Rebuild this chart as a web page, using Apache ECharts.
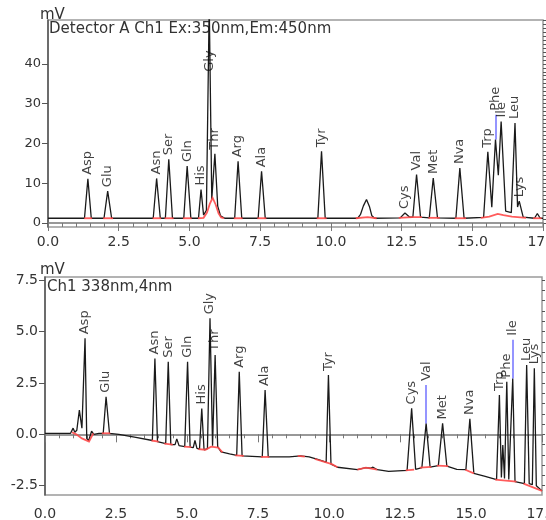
<!DOCTYPE html>
<html>
<head>
<meta charset="utf-8">
<script src="https://cdn.jsdelivr.net/npm/echarts@6/dist/echarts.min.js"></script>
<style>
html, body { margin: 0; padding: 0; background: #fff; }
#chart { width: 546px; height: 520px; }
</style>
</head>
<body>
<div id="chart"></div>
<script>
// top panel: fluorescence detector (mV vs min)
const topTrace = [
  [0, 1.2], [1.29, 1.2], [1.41, 11.1], [1.53, 1.2],
  [1.98, 1.2], [2.11, 8.0], [2.25, 1.2],
  [3.72, 1.2], [3.84, 11.2], [3.97, 1.2],
  [4.15, 1.2], [4.27, 16.0], [4.4, 1.2],
  [4.8, 1.2], [4.92, 14.3], [5.05, 1.2],
  [5.32, 1.2], [5.41, 8.4], [5.5, 2.0], [5.6, 3.2], [5.70, 55], [5.79, 6.0],
  [5.90, 17.4], [6.0, 4.2], [6.1, 1.8], [6.25, 1.2],
  [6.6, 1.2], [6.72, 15.5], [6.85, 1.2],
  [7.43, 1.2], [7.55, 13.0], [7.68, 1.2],
  [9.54, 1.2], [9.67, 18.0], [9.8, 1.2],
  [10.95, 1.2], [11.05, 2.2], [11.15, 4.3], [11.26, 5.9], [11.37, 4.0], [11.45, 1.8], [11.55, 1.2],
  [12.45, 1.3], [12.62, 2.5], [12.78, 1.5], [12.9, 1.5], [13.03, 12.2], [13.17, 1.5],
  [13.48, 1.3], [13.62, 11.3], [13.77, 1.3],
  [14.42, 1.2], [14.56, 13.8], [14.71, 1.2],
  [15.4, 1.4], [15.55, 17.9], [15.69, 4.0], [15.82, 21.0], [15.92, 12.0], [16.02, 25.5],
  [16.18, 3.0], [16.38, 2.6], [16.51, 25.1], [16.6, 4.0], [16.66, 5.5], [16.8, 1.5],
  [17.2, 1.2], [17.3, 2.4], [17.4, 1.2], [17.5, 1.2]
];
// red integration baseline pieces
const topBase = [
  [[1.28, 1.2], [1.56, 1.2]],
  [[1.95, 1.2], [2.3, 1.2]],
  [[3.7, 1.2], [4.0, 1.2]],
  [[4.12, 1.2], [4.44, 1.2]],
  [[4.77, 1.2], [5.08, 1.2]],
  [[5.3, 1.2], [5.5, 1.3], [5.62, 2.6], [5.72, 4.8], [5.82, 6.3], [5.93, 4.6], [6.03, 2.4], [6.12, 1.4], [6.22, 1.2]],
  [[6.57, 1.2], [6.88, 1.2]],
  [[7.4, 1.2], [7.72, 1.2]],
  [[9.5, 1.2], [9.85, 1.2]],
  [[10.88, 1.2], [11.3, 1.5], [11.62, 1.2]],
  [[12.4, 1.3], [12.88, 1.5], [13.22, 1.5]],
  [[13.45, 1.3], [13.85, 1.3]],
  [[14.38, 1.2], [14.78, 1.2]],
  [[15.3, 1.3], [15.6, 1.6], [15.9, 2.3], [16.1, 2.0], [16.4, 1.6], [16.9, 1.3]],
  [[17.15, 1.2], [17.45, 1.2]]
];
const topNames = ["Asp", "Glu", "Asn", "Ser", "Gln", "His", "Gly", "Thr", "Arg", "Ala",
  "Tyr", "Cys", "Val", "Met", "Nva", "Trp", "Phe", "Ile", "Leu", "Lys"];
const topTimes = [1.41, 2.11, 3.84, 4.27, 4.92, 5.41, 5.70, 5.90, 6.72, 7.55,
  9.67, 12.62, 13.03, 13.62, 14.56, 15.55, 15.82, 16.02, 16.51, 16.66];
const topHeights = [11.1, 8.0, 11.2, 16.0, 14.3, 8.4, 55, 17.4, 15.5, 13.0,
  18.0, 2.5, 12.2, 11.3, 13.8, 17.9, 21.0, 25.5, 25.1, 5.5];
const topLabelAt = { Gly: 40.5, Phe: 27.2 };
const topYLabels = [0, 10, 20, 30, 40];

// bottom panel: UV detector
const botTrace = [
  [0, 0.05], [0.9, 0.05], [0.99, 0.3], [1.05, 0.1], [1.12, 0.2], [1.21, 1.18], [1.3, 0.3],
  [1.41, 4.67], [1.47, -0.2], [1.54, -0.3], [1.64, 0.15], [1.72, 0.0], [1.9, 0.05],
  [2.05, 0.05], [2.15, 1.83], [2.27, 0.05], [2.6, 0.0], [3.2, -0.15],
  [3.78, -0.3], [3.87, 3.69], [3.96, -0.35], [4.25, -0.45], [4.34, 3.53], [4.43, -0.5],
  [4.58, -0.5], [4.64, -0.22], [4.72, -0.55], [4.92, -0.6], [5.02, 3.53], [5.11, -0.62],
  [5.22, -0.65], [5.28, -0.3], [5.35, -0.68], [5.44, -0.72], [5.52, 1.26], [5.6, -0.75],
  [5.72, -0.7], [5.81, 5.64], [5.9, -0.55], [5.99, 3.86], [6.08, -0.6], [6.2, -0.85],
  [6.5, -0.95], [6.75, -1.02], [6.84, 3.04], [6.94, -1.05],
  [7.65, -1.1], [7.75, 2.15], [7.86, -1.1], [8.6, -1.1], [9.0, -1.05], [9.3, -1.1],
  [9.6, -1.22], [9.9, -1.35], [9.98, 2.88], [10.07, -1.45], [10.3, -1.6],
  [11.0, -1.72], [11.3, -1.62], [11.45, -1.65], [11.55, -1.6], [11.7, -1.72], [12.1, -1.8],
  [12.75, -1.75], [12.91, 1.26], [13.05, -1.7], [13.27, -1.62], [13.42, 0.53], [13.56, -1.6],
  [13.85, -1.52], [14.0, 0.53], [14.15, -1.55], [14.5, -1.7], [14.82, -1.72], [14.96, 0.75],
  [15.1, -1.9], [15.5, -2.05], [15.9, -2.2], [16.0, 1.91], [16.07, -2.1], [16.12, -0.52],
  [16.18, -2.15], [16.26, 2.56], [16.33, -2.2], [16.4, -2.25], [16.47, 2.72], [16.55, -2.3],
  [16.88, -2.4], [16.96, 3.37], [17.05, -2.4], [17.16, -2.45], [17.23, 3.21], [17.3, -2.5],
  [17.5, -2.75]
];
const botBase = [
  [[0.95, 0.1], [1.1, 0.0], [1.3, -0.2], [1.55, -0.35], [1.7, 0.05]],
  [[2.0, 0.05], [2.3, 0.05]],
  [[3.75, -0.3], [4.0, -0.35]],
  [[4.2, -0.45], [4.5, -0.5]],
  [[4.9, -0.6], [5.15, -0.62]],
  [[5.4, -0.72], [5.65, -0.75], [5.85, -0.6], [6.1, -0.65], [6.25, -0.88]],
  [[6.7, -1.02], [7.0, -1.05]],
  [[7.6, -1.1], [7.9, -1.1]],
  [[8.9, -1.05], [9.15, -1.08]],
  [[9.5, -1.2], [10.1, -1.45], [10.3, -1.6]],
  [[11.0, -1.72], [11.3, -1.62], [11.7, -1.72]],
  [[12.7, -1.75], [13.0, -1.72]],
  [[13.2, -1.62], [13.6, -1.58]],
  [[13.8, -1.52], [14.2, -1.55]],
  [[14.8, -1.72], [15.1, -1.9]],
  [[15.85, -2.2], [16.6, -2.3]],
  [[16.85, -2.4], [17.5, -2.75]]
];
const botNames = topNames;
const botTimes = [1.41, 2.15, 3.87, 4.34, 5.02, 5.52, 5.81, 5.99, 6.84, 7.75,
  9.98, 12.91, 13.42, 14.00, 14.96, 16.00, 16.26, 16.47, 16.96, 17.23];
const botHeights = [4.67, 1.83, 3.69, 3.53, 3.53, 1.26, 5.64, 3.86, 3.04, 2.15,
  2.88, 1.26, 0.53, 0.53, 0.75, 1.91, 2.56, 2.72, 3.37, 3.21];
const botLabelAt = { Val: 2.4, Ile: 4.6 };
const botYLabels = [-2.5, 0, 2.5, 5, 7.5];

const FONT = "'DejaVu Sans', sans-serif";
const axisColor = "#777";

const topMinor = [];
for (let v = 0; v <= 51; v += 1) topMinor.push(v);
const botMinor = [];
for (let v = -2.5; v <= 7.5; v += 0.5) botMinor.push(v);

function xAxisOf(grid, margin) {
  return {
    type: "value", gridIndex: grid, min: 0, max: 17.5, interval: 2.5,
    axisLine: { lineStyle: { color: axisColor, width: 1.5 } },
    axisTick: { length: 8, lineStyle: { color: axisColor } },
    minorTick: { show: true, splitNumber: 5, length: 4, lineStyle: { color: axisColor } },
    axisLabel: { formatter: (v) => v.toFixed(1), margin: margin, fontSize: 14, fontFamily: FONT, color: "#333" },
    splitLine: { show: false }
  };
}

function yAxesOf(grid, min, max, labels, minor, fmt, size) {
  return [
    {
      type: "value", gridIndex: grid, min: min, max: max,
      axisLine: { show: true, lineStyle: { color: "#555", width: 1.5 } },
      axisTick: { show: true, customValues: labels, length: 6, lineStyle: { color: "#555" } },
      axisLabel: { customValues: labels, formatter: fmt, margin: 7, fontSize: size, fontFamily: FONT, color: "#333" },
      splitLine: { show: false }
    },
    {
      type: "value", gridIndex: grid, min: min, max: max,
      axisLine: { show: false },
      axisTick: { show: true, customValues: minor, length: 3, lineStyle: { color: "#555" } },
      axisLabel: { show: false },
      splitLine: { show: false }
    }
  ];
}

function panelSeries(xi, yi, trace, base, names, times, heights, labelAt, shift) {
  const connectors = [];
  names.forEach((n, i) => {
    if (labelAt[n] !== undefined && labelAt[n] > heights[i]) {
      connectors.push([{ coord: [times[i], heights[i]] }, { coord: [times[i], labelAt[n]] }]);
    }
  });
  return [
    {
      type: "line", xAxisIndex: xi, yAxisIndex: yi, data: trace,
      showSymbol: false, symbol: "none", z: 2,
      lineStyle: { color: "#1a1a1a", width: 1.3 }
    },
    {
      type: "lines", coordinateSystem: "cartesian2d", xAxisIndex: xi, yAxisIndex: yi,
      polyline: true, z: 3, silent: true,
      lineStyle: { color: "#ff4a4a", width: 1.8, opacity: 0.9 },
      data: base.map((c) => ({ coords: c }))
    },
    {
      type: "scatter", xAxisIndex: xi, yAxisIndex: yi, symbolSize: 0, silent: true, z: 5,
      data: names.map((n, i) => {
        const item = { name: n, value: [times[i], labelAt[n] !== undefined ? labelAt[n] : heights[i]] };
        if (shift[n] !== undefined) item.label = { offset: [shift[n], 0] };
        return item;
      }),
      label: {
        show: true, formatter: (p) => p.name, position: "top", distance: 1,
        rotate: 90, align: "left", verticalAlign: "middle", offset: [3, 0],
        fontSize: 13, fontFamily: FONT, color: "#111"
      },
      markLine: {
        silent: true, symbol: ["none", "none"], animation: false,
        label: { show: false },
        lineStyle: { color: "#7272ff", width: 1.5, type: "solid" },
        data: connectors
      }
    }
  ];
}

const chart = echarts.init(document.getElementById("chart"));
chart.setOption({
  animation: false,
  grid: [
    { left: 48, right: 3, top: 20, bottom: 293, show: true, borderColor: "#9a9a9a", borderWidth: 1.5, outerBoundsMode: "none", containLabel: false },
    { left: 45, right: 4, top: 277, bottom: 25, show: true, borderColor: "#9a9a9a", borderWidth: 1.5, outerBoundsMode: "none", containLabel: false }
  ],
  xAxis: [xAxisOf(0, 8), xAxisOf(1, 12)],
  yAxis: [
    ...yAxesOf(0, -1, 51, topYLabels, topMinor, (v) => String(v), 13),
    ...yAxesOf(1, -2.95, 7.65, botYLabels, botMinor, (v) => v.toFixed(1), 14)
  ],
  graphic: [
    { type: "text", left: 40, top: 8, style: { text: "mV", font: "15px " + FONT, fill: "#333" } },
    { type: "text", left: 49, top: 22, style: { text: "Detector A Ch1 Ex:350nm,Em:450nm", font: "15px " + FONT, fill: "#333" } },
    { type: "text", left: 40, top: 263, style: { text: "mV", font: "15px " + FONT, fill: "#333" } },
    { type: "text", left: 47, top: 280, style: { text: "Ch1 338nm,4nm", font: "15px " + FONT, fill: "#333" } }
  ],
  series: [
    ...panelSeries(0, 0, topTrace, topBase, topNames, topTimes, topHeights, topLabelAt, { Gly: -11 }),
    ...panelSeries(1, 2, botTrace, botBase, botNames, botTimes, botHeights, botLabelAt, {})
  ]
});
</script>
</body>
</html>
